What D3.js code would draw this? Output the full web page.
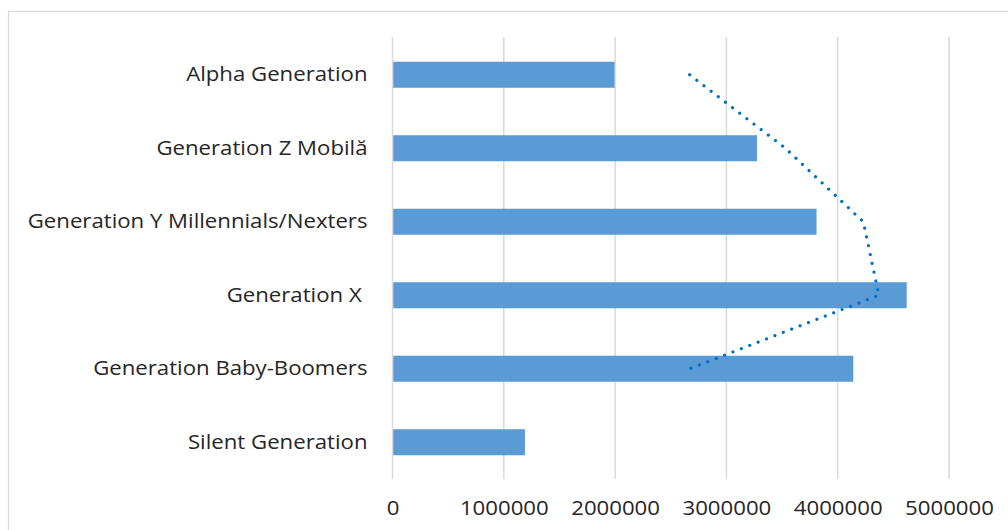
<!DOCTYPE html>
<html>
<head>
<meta charset="utf-8">
<script src="https://cdn.jsdelivr.net/npm/d3@7"></script>
<style>
  html, body { margin: 0; padding: 0; background: #fff; }
  svg text { font-family: "Open Sans", Lato, sans-serif; fill: #262626; white-space: pre; }
</style>
</head>
<body>
<div id="chart"></div>
<script>
// categories from top to bottom
const categories = ["Alpha Generation", "Generation Z Mobilă", "Generation Y Millennials/Nexters",
    "Generation X ", "Generation Baby-Boomers", "Silent Generation"];
const values = [1995000, 3275000, 3810000, 4620000, 4140000, 1190000];

// dotted trendline (2-period moving average)
const trendCategories = ["Alpha Generation", "Generation Z Mobilă", "Generation Y Millennials/Nexters",
    "Generation X ", "Generation Baby-Boomers"];
const trendValues = [2670000, 3530000, 4230000, 4370000, 2670000];

const xTicks = [0, 1000000, 2000000, 3000000, 4000000, 5000000];

const W = 1008, H = 530;
const margin = { top: 38, right: 59, bottom: 51, left: 392.5 };
const fontSize = "20px";
const stretch = 1.11; // text in the reference is a bit wider than Open Sans

const svg = d3.select("#chart")
    .append("svg")
    .attr("width", W)
    .attr("height", H);

// chart frame
svg.append("rect")
    .attr("x", 8.5)
    .attr("y", 11.5)
    .attr("width", W + 20)
    .attr("height", H + 20)
    .attr("fill", "none")
    .attr("stroke", "#d9d9d9")
    .attr("stroke-width", 1.2);

const x = d3.scaleLinear()
    .domain([0, 5000000])
    .range([margin.left, W - margin.right]);

const y = d3.scaleBand()
    .domain(categories)
    .range([margin.top, H - margin.bottom])
    .paddingInner(0.646)
    .paddingOuter(0.323);

// vertical gridlines
svg.append("g")
    .selectAll("line")
    .data(xTicks)
    .join("line")
    .attr("x1", d => x(d))
    .attr("x2", d => x(d))
    .attr("y1", margin.top - 1)
    .attr("y2", H - margin.bottom)
    .attr("stroke", "#d9d9d9")
    .attr("stroke-width", 1.5);

// x axis tick labels
const xAxis = svg.append("g")
    .attr("transform", `translate(0, ${H - margin.bottom})`)
    .call(d3.axisBottom(x).tickValues(xTicks).tickFormat(d3.format("d")).tickSize(0).tickPadding(22));
xAxis.select(".domain").remove();
xAxis.selectAll("text")
    .style("font-size", fontSize)
    .style("font-family", "'Open Sans', Lato, sans-serif")
    .attr("fill", "#262626")
    .attr("transform", `scale(${stretch},1)`);

// y axis labels
const yAxis = svg.append("g")
    .attr("transform", `translate(${margin.left}, 0)`)
    .call(d3.axisLeft(y).tickSize(0).tickPadding(25));
yAxis.select(".domain").remove();
yAxis.selectAll("text")
    .style("font-size", fontSize)
    .style("font-family", "'Open Sans', Lato, sans-serif")
    .attr("fill", "#262626")
    .attr("x", 0)
    .attr("transform", `translate(-25,0) scale(${stretch},1)`);

// bars
svg.append("g")
    .selectAll("rect")
    .data(values)
    .join("rect")
    .attr("x", x(0) + 0.75)
    .attr("y", (d, i) => y(categories[i]))
    .attr("width", d => x(d) - x(0) - 0.75)
    .attr("height", y.bandwidth())
    .attr("fill", "#5b9bd5");

// trendline
const line = d3.line()
    .x(d => x(d[1]))
    .y(d => y(d[0]) + y.bandwidth() / 2);

svg.append("path")
    .datum(trendCategories.map((c, i) => [c, trendValues[i]]))
    .attr("d", line)
    .attr("fill", "none")
    .attr("stroke", "#0070c0")
    .attr("stroke-width", 3.2)
    .attr("stroke-linecap", "round")
    .attr("stroke-dasharray", "0.01 9");
</script>
</body>
</html>
